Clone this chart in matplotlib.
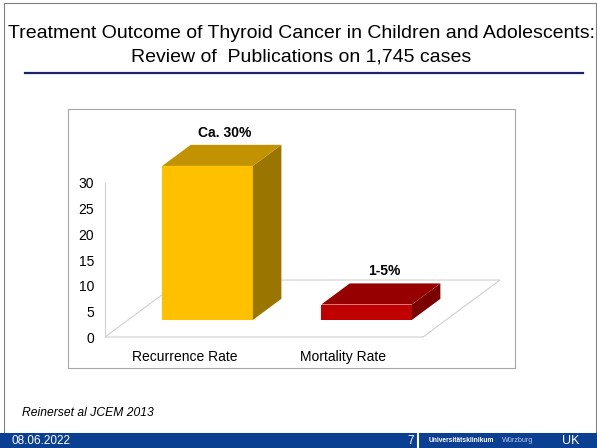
import matplotlib.pyplot as plt
from matplotlib.patches import Polygon, Rectangle

plt.rcParams['font.family'] = ['Liberation Sans', 'DejaVu Sans']

# chart data
categories = ['Recurrence Rate', 'Mortality Rate']
values = [30, 3]
bar_labels = ['Ca. 30%', '1-5%']
front_colors = ['#FFC000', '#C00000']
side_colors = ['#9A7600', '#7A0000']
top_colors = ['#C29200', '#960000']
yticks = [0, 5, 10, 15, 20, 25, 30]

title_1 = 'Treatment Outcome of Thyroid Cancer in Children and Adolescents:'
title_2 = 'Review of  Publications on 1,745 cases'
source = 'Reinerset al JCEM 2013'
date_txt = '08.06.2022'
page_no = '7'

W, H = 597, 448
fig = plt.figure(figsize=(W / 100, H / 100), dpi=100)

# slide decorations in pixel space
deco = fig.add_axes([0, 0, 1, 1])
deco.set_xlim(0, W)
deco.set_ylim(H, 0)
deco.axis('off')
deco.add_patch(Rectangle((4, 3), W - 5, 430, fill=False, ec='#808080', lw=0.8))
deco.text(302, 33, title_1, ha='center', va='center', fontsize=14)
deco.text(301, 57, title_2, ha='center', va='center', fontsize=14)
deco.plot([25, 583], [73, 73], color='#1F1F6E', lw=1.6)
deco.add_patch(Rectangle((68, 109), 447, 259, fill=False, ec='#A6A6A6', lw=0.8))
deco.text(22, 413, source, ha='left', va='center', fontsize=8.7, style='italic')
deco.add_patch(Rectangle((0, 433), W, 15, color='#0B3F91', lw=0))
deco.plot([418, 418], [433, 448], color='white', lw=1.5)
deco.text(12, 441, date_txt, ha='left', va='center', fontsize=8.5, color='white')
deco.text(411, 441, page_no, ha='center', va='center', fontsize=8.5, color='white')
deco.text(429, 441, 'Universitätsklinikum', ha='left', va='center', fontsize=4.8,
          color='white', weight='bold')
deco.text(502, 441, 'Würzburg', ha='left', va='center', fontsize=5.2, color='#B8C8E8')
deco.text(562, 441, 'UK', ha='left', va='center', fontsize=9, color='white')

# chart axes: value 0 at y=337px, 30 at y=183px; x from 105 to 423px
ax = fig.add_axes([105 / W, (H - 337) / H, (423 - 105) / W, (337 - 183) / H])
ax.set_xlim(-0.5, 1.5)
ax.set_ylim(0, 30)
ax.patch.set_alpha(0)
for s in ax.spines.values():
    s.set_visible(False)

ddx, ddy = 0.484, 11.1  # floor depth in data units
d0, d1 = 0.3, 0.67      # bar depth range (fraction of floor)
bw = 0.57

# floor outline
fl = [(-0.5, 0), (1.5, 0), (1.5 + ddx, ddy), (-0.5 + ddx, ddy)]
ax.add_patch(Polygon(fl, closed=True, fill=False, ec='#D0D0D0', lw=0.8,
                     clip_on=False, zorder=1))
ax.plot([-0.5, -0.5], [0, 30], color='#D0D0D0', lw=0.8, clip_on=False, zorder=1)

for i, v in enumerate(values):
    x0 = i - bw / 2 + d0 * ddx
    x1 = x0 + bw
    yb = d0 * ddy
    yt = yb + v
    ox, oy = (d1 - d0) * ddx, (d1 - d0) * ddy
    ax.add_patch(Polygon([(x0, yb), (x1, yb), (x1, yt), (x0, yt)],
                         fc=front_colors[i], ec='none', clip_on=False, zorder=3))
    ax.add_patch(Polygon([(x1, yb), (x1 + ox, yb + oy), (x1 + ox, yt + oy), (x1, yt)],
                         fc=side_colors[i], ec='none', clip_on=False, zorder=3))
    ax.add_patch(Polygon([(x0, yt), (x1, yt), (x1 + ox, yt + oy), (x0 + ox, yt + oy)],
                         fc=top_colors[i], ec='none', clip_on=False, zorder=3))
    ax.text((x0 + x1 + ox) / 2 + 0.02, yt + oy + 1.0, bar_labels[i], ha='center',
            va='bottom', fontsize=10, weight='bold', clip_on=False)

ax.set_yticks(yticks)
ax.set_yticklabels([str(t) for t in yticks], fontsize=10)
ax.set_xticks(range(len(categories)))
ax.set_xticklabels(categories, fontsize=10)
ax.tick_params(axis='both', length=0)
ax.tick_params(axis='y', pad=8)
ax.tick_params(axis='x', pad=9)

fig.savefig('out.png', dpi=100)
